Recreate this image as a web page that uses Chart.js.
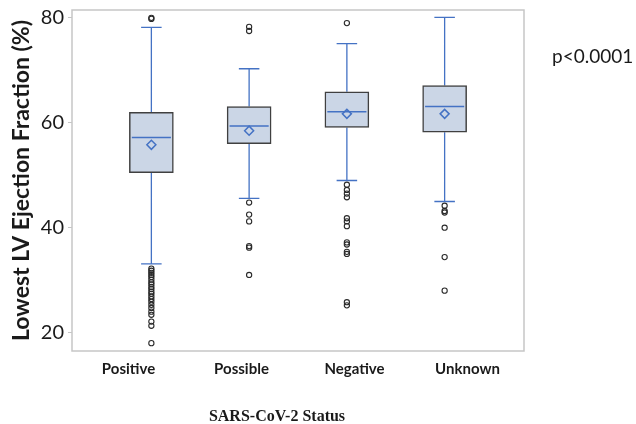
<!DOCTYPE html>
<html>
<head>
<meta charset="utf-8">
<script src="https://cdn.jsdelivr.net/npm/chart.js@4.4.1/dist/chart.umd.min.js"></script>
<style>
  html, body { margin: 0; padding: 0; background: #ffffff; }
  #wrap { position: relative; width: 636px; height: 424px; }
</style>
</head>
<body>
<div id="wrap"><canvas id="c" width="636" height="424"></canvas></div>
<script>
// ---- data ----
const categories = ['Positive', 'Possible', 'Negative', 'Unknown'];
const q1 = [50.5, 56.0, 59.1, 58.2];
const medians = [57.2, 59.4, 62.1, 63.1];
const q3 = [62.0, 63.1, 65.9, 67.1];
const whiskerLow = [33.1, 45.6, 49.0, 45.0];
const whiskerHigh = [78.2, 70.3, 75.1, 80.1];
const means = [55.8, 58.5, 61.7, 61.7];
const outliersPositive = [80.0, 79.8, 32.2, 31.8, 31.4, 31.0, 30.6, 30.1, 29.6, 29.2, 28.7, 28.3, 27.8, 27.4, 26.9, 26.4, 25.9, 25.3, 24.7, 24.0, 23.4, 22.1, 21.3, 18.0];
const outliersPossible = [78.3, 77.5, 44.8, 42.5, 41.2, 36.5, 36.2, 31.0];
const outliersNegative = [79.0, 48.2, 47.2, 46.5, 45.8, 41.8, 41.2, 40.3, 37.2, 36.8, 35.4, 35.0, 25.8, 25.2];
const outliersUnknown = [44.2, 43.2, 42.9, 40.0, 34.4, 28.0];
const outliers = [outliersPositive, outliersPossible, outliersNegative, outliersUnknown];
const yTicks = [20, 40, 60, 80];
const yTitle = 'Lowest LV Ejection Fraction (%)';
const xTitle = 'SARS-CoV-2 Status';
const pValueText = 'p<0.0001';

// ---- styles ----
const BLUE = '#4472c4';
const BOX_FILL = '#cbd6e6';
const BOX_EDGE = '#404040';
const TEXT = '#1a1a1a';
const FRAME = '#c6c6c6';
const HALF_BOX = 0.2;   // half box width in category units
const HALF_CAP = 0.105; // half cap width in category units

// ---- derived datasets ----
const boxData = categories.map((c, i) => ({ x: i, y: [q1[i], q3[i]] }));

const medianData = [];
categories.forEach((c, i) => {
  medianData.push({ x: i - HALF_BOX, y: medians[i] }, { x: i + HALF_BOX, y: medians[i] }, { x: i + HALF_BOX, y: null });
});

const whiskerData = [];
categories.forEach((c, i) => {
  whiskerData.push({ x: i, y: q3[i] }, { x: i, y: whiskerHigh[i] }, { x: i, y: null });
  whiskerData.push({ x: i, y: q1[i] }, { x: i, y: whiskerLow[i] }, { x: i, y: null });
  whiskerData.push({ x: i - HALF_CAP, y: whiskerHigh[i] }, { x: i + HALF_CAP, y: whiskerHigh[i] }, { x: i, y: null });
  whiskerData.push({ x: i - HALF_CAP, y: whiskerLow[i] }, { x: i + HALF_CAP, y: whiskerLow[i] }, { x: i, y: null });
});

const meanData = categories.map((c, i) => ({ x: i, y: means[i] }));

const outlierData = [];
outliers.forEach((list, i) => list.forEach(v => outlierData.push({ x: i, y: v })));

// ---- plugin: frame around plot area and free texts ----
const framePlugin = {
  id: 'frameAndTexts',
  beforeDatasetsDraw(chart) {
    const { ctx, chartArea: a } = chart;
    ctx.save();
    ctx.strokeStyle = FRAME;
    ctx.lineWidth = 1.5;
    ctx.strokeRect(a.left, a.top, a.right - a.left, a.bottom - a.top);
    ctx.restore();
  },
  afterDraw(chart) {
    const { ctx } = chart;
    ctx.save();
    ctx.fillStyle = TEXT;
    ctx.textBaseline = 'middle';
    ctx.textAlign = 'left';
    ctx.font = '19px Lato';
    ctx.fillText(pValueText, 552, 57);
    ctx.textAlign = 'center';
    ctx.font = 'bold 16px "Liberation Serif"';
    ctx.fillText(xTitle, 277, 417);
    ctx.restore();
  }
};

new Chart(document.getElementById('c'), {
  data: {
    labels: categories,
    datasets: [
      {
        type: 'line', label: 'median', data: medianData, xAxisID: 'x2', yAxisID: 'y',
        borderColor: BLUE, borderWidth: 1.5, pointRadius: 0, spanGaps: false, fill: false, order: 1
      },
      {
        type: 'scatter', label: 'mean', data: meanData, xAxisID: 'x2', yAxisID: 'y',
        pointStyle: 'rectRot', pointRadius: 4.5, borderColor: BLUE, borderWidth: 1.5,
        backgroundColor: 'rgba(0,0,0,0)', order: 0
      },
      {
        type: 'bar', label: 'box', data: boxData, xAxisID: 'x2', yAxisID: 'y',
        backgroundColor: BOX_FILL, borderColor: BOX_EDGE, borderWidth: 1.5, borderSkipped: false,
        barThickness: 44, order: 5
      },
      {
        type: 'line', label: 'whisker', data: whiskerData, xAxisID: 'x2', yAxisID: 'y',
        borderColor: BLUE, borderWidth: 1.3, pointRadius: 0, spanGaps: false, fill: false, order: 6
      },
      {
        type: 'scatter', label: 'outliers', data: outlierData, xAxisID: 'x2', yAxisID: 'y',
        pointStyle: 'circle', pointRadius: 2.6, borderColor: '#2a2a2a', borderWidth: 1.1,
        backgroundColor: 'rgba(0,0,0,0)', order: 2
      }
    ]
  },
  options: {
    responsive: false,
    animation: false,
    layout: { padding: { top: 10, right: 112, left: 0, bottom: 0 } },
    plugins: { legend: { display: false }, tooltip: { enabled: false }, title: { display: false } },
    scales: {
      x: {
        type: 'category',
        position: 'bottom',
        offset: true,
        grid: { display: false, drawTicks: false },
        border: { display: false },
        ticks: { color: TEXT, font: { family: 'Lato', size: 15, weight: 'bold' }, padding: 9, maxRotation: 0 },
        afterFit(scale) { scale.height = 73; scale.paddingLeft = 0; scale.paddingRight = 0; }
      },
      x2: {
        type: 'linear',
        display: false,
        min: -0.555,
        max: 3.555
      },
      y: {
        type: 'linear',
        min: 16.5,
        max: 81.5,
        afterBuildTicks(scale) { scale.ticks = yTicks.map(v => ({ value: v })); },
        grid: { drawOnChartArea: false, drawTicks: true, tickLength: 4, color: FRAME, lineWidth: 1 },
        border: { display: false },
        ticks: { color: TEXT, font: { family: 'Lato', size: 20 }, padding: 4 },
        title: {
          display: true, text: yTitle, color: TEXT,
          font: { family: 'Lato', size: 23, weight: 'bold' }, padding: { top: 8, bottom: 0 }
        },
        afterFit(scale) { scale.width = 72; scale.paddingTop = 0; scale.paddingBottom = 0; }
      }
    }
  },
  plugins: [framePlugin]
});
</script>
</body>
</html>
